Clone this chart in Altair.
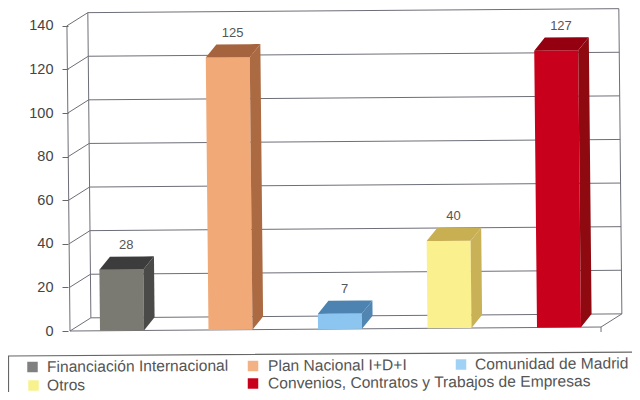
import altair as alt
import pandas as pd

categories = ["Financiación Internacional", "Plan Nacional I+D+I", "Comunidad de Madrid", "Otros",
              "Convenios, Contratos y Trabajos de Empresas"]
values = [28, 125, 7, 40, 127]
front_colors = ["#7a7a72", "#f1a977", "#8cc6f0", "#fbf08e", "#c8001c"]
top_colors = ["#3c3c3c", "#a5643e", "#4c83b0", "#c8b052", "#94000f"]
side_colors = ["#4a4a48", "#ab6a42", "#5286b2", "#c9b158", "#8e0a10"]
legend_colors = ["#808080", "#f3b283", "#9fd2f4", "#f7f28e", "#c8001c"]
ticks = [0, 20, 40, 60, 80, 100, 120, 140]

PX = 2.18            # pixels per unit of value
FONT = "Liberation Sans"
X0, X1 = 70.0, 601.0  # front floor edge (page px)
DX, DY = 21.0, 13.0   # wall depth
BAR_LEFT = [100, 208.5, 318, 427.5, 537]
BAR_W, BAR_DX = 44.0, 10.7
RIGHT, BOTTOM = 632, 392  # last page pixels the chart can reach without overflowing the window


def pt(x, v, dx=0.0, dy=0.0):
    """Picture position of value v at slot x, with the scan's slight rotation."""
    yp = 331 - v * PX - dy
    return (x + dx + 0.01 * (yp - 331), v + dy / PX + 0.0075 * (x + dx - 70) / PX)


def quad(corners, key, color):
    xs = sorted({c[0] for c in corners})
    n = len(corners)
    rows = []
    for x in xs:
        hits = []
        for i in range(n):
            (ax, ay), (bx, by) = corners[i], corners[(i + 1) % n]
            if min(ax, bx) <= x <= max(ax, bx) and ax != bx:
                hits.append(ay + (by - ay) * (x - ax) / (bx - ax))
        rows.append({"x": x, "y": max(hits), "y2": min(hits), "key": key, "color": color})
    return rows


faces = []
for i, v in enumerate(values):
    L, R = BAR_LEFT[i], BAR_LEFT[i] + BAR_W
    faces += quad([pt(L, 0), pt(R, 0), pt(R, v), pt(L, v)], f"{i}f", front_colors[i])
    faces += quad([pt(L, v), pt(R, v), pt(R, v, BAR_DX, DY), pt(L, v, BAR_DX, DY)], f"{i}t", top_colors[i])
    faces += quad([pt(R, 0), pt(R, 0, BAR_DX, DY), pt(R, v, BAR_DX, DY), pt(R, v)], f"{i}s", side_colors[i])
faces = pd.DataFrame(faces)


def seg(rows, key, *pts):
    for k, (x, y) in enumerate(pts):
        rows.append({"x": x, "y": y, "key": key, "o": k})


lines = []
for t in ticks:
    seg(lines, f"g{t}", pt(X0, t), pt(X0, t, DX, DY), pt(X1, t, DX, DY))
seg(lines, "front", pt(X0, 140), pt(X0, 0), pt(X1, 0), pt(X1, 0, DX, DY), pt(X1, 140, DX, DY))
seg(lines, "back", pt(X0, 0, DX, DY), pt(X0, 140, DX, DY))
seg(lines, "tick", pt(X1, 0), pt(X1, 0, 0, -5))
lines = pd.DataFrame(lines)

box = []
seg(box, "legendbox", (8.5, (331 - BOTTOM) / PX), (8.5, (331 - 356) / PX), (RIGHT, (331 - 352.1) / PX))
box = pd.DataFrame(box)

labels = []
for i, v in enumerate(values):
    x, y = pt(BAR_LEFT[i] + 27, v, 0, 24.5)
    labels.append({"x": x, "y": y, "t": str(v)})
labels = pd.DataFrame(labels)

# legend rows: swatch x, text x, row y
LEG = [(32.5, 47, 367), (253, 268, 366), (461, 475, 364.5), (33.5, 47, 385.5), (253, 268, 383.5)]
legend = pd.DataFrame([
    {"sx": s, "tx": t, "y": (331 - y) / PX, "t": c, "color": col}
    for (s, t, y), c, col in zip(LEG, categories, legend_colors)
])

xs = alt.Scale(domain=[8, RIGHT], range=[0, RIGHT - 8], nice=False, zero=False)
ys = alt.Scale(domain=[(331 - BOTTOM) / PX, (331 - 8) / PX], range=[BOTTOM - 8, 0], nice=False, zero=False)
X = alt.X("x:Q", scale=xs, axis=None)
Y = alt.Y("y:Q", scale=ys, axis=None)

axis_layer = alt.Chart(pd.DataFrame({"x": [X0] * len(ticks), "tick": ticks})).mark_point(opacity=0).encode(
    x=X,
    y=alt.Y("tick:Q", scale=ys, axis=alt.Axis(
        values=ticks, offset=-60, domain=False, grid=False, tickColor="#666666", tickSize=6,
        labelFontSize=14.5, labelColor="#444444", labelFont=FONT, labelPadding=9, title=None)),
)

line_layer = alt.Chart(lines).mark_line(color="#6e6e78", strokeWidth=1, interpolate="linear").encode(
    x=X, y=Y, detail="key:N", order="o:Q")
box_layer = alt.Chart(box).mark_line(color="#666666", strokeWidth=1.2).encode(
    x=X, y=Y, detail="key:N", order="o:Q")
face_layer = alt.Chart(faces).mark_area(interpolate="linear").encode(
    x=X, y=Y, y2="y2:Q", detail="key:N", color=alt.Color("color:N", scale=None))
label_layer = alt.Chart(labels).mark_text(font=FONT, fontSize=13, color="#555555").encode(
    x=X, y=Y, text="t:N")
swatch_layer = alt.Chart(legend).mark_square(size=110, opacity=1).encode(
    x=alt.X("sx:Q", scale=xs, axis=None), y=Y, color=alt.Color("color:N", scale=None))
legend_text = alt.Chart(legend).mark_text(font=FONT, fontSize=15.6, color="#555555", align="left", angle=359.6).encode(
    x=alt.X("tx:Q", scale=xs, axis=None), y=Y, text="t:N")

chart = alt.layer(
    line_layer, box_layer, face_layer, label_layer, swatch_layer, legend_text, axis_layer
).resolve_axis(y="independent").properties(
    width=RIGHT - 8, height=BOTTOM - 8, padding=0, autosize=alt.AutoSizeParams(type="none"), background="white",
).configure_view(stroke=None)

chart.save("out.html", embed_options={"renderer": "svg", "actions": False})
